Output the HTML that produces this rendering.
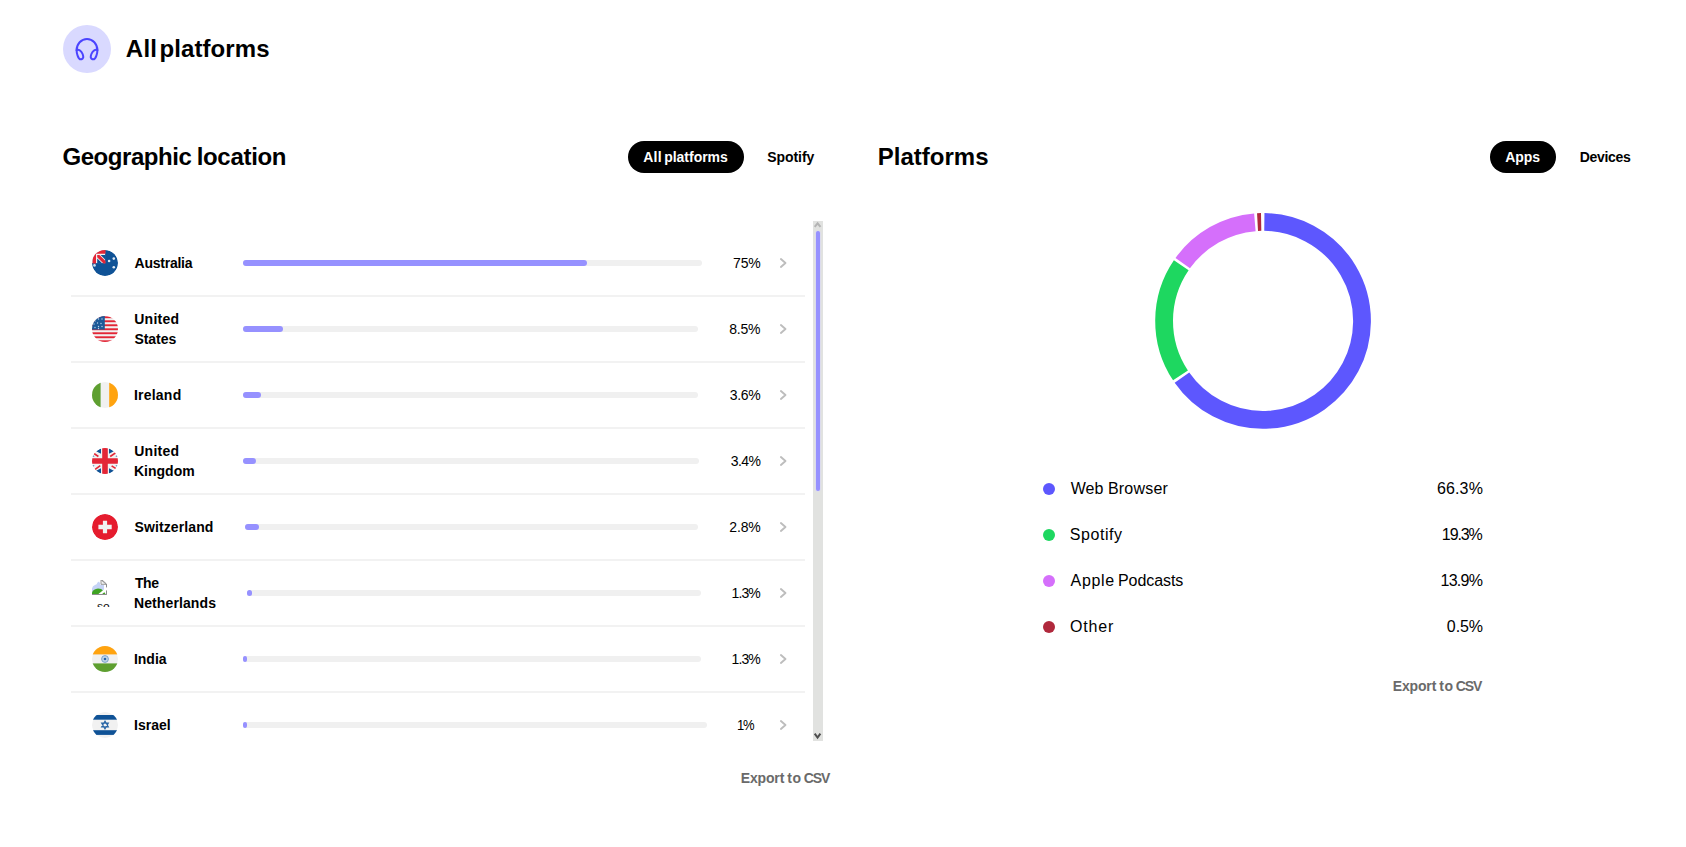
<!DOCTYPE html>
<html lang="en">
<head>
<meta charset="utf-8">
<title>All platforms</title>
<style>
*{box-sizing:border-box;margin:0;padding:0}
html,body{width:1686px;height:847px;background:#fff;overflow:hidden}
body{position:relative;font-family:"Liberation Sans",sans-serif;color:#000}
.abs{position:absolute;white-space:nowrap}
.t{position:absolute;white-space:nowrap;line-height:1;transform-origin:0 0}
.b{font-weight:700}
#hicon{left:63px;top:25px;width:48px;height:48px;border-radius:50%;background:#d9d9ff}
.pill{position:absolute;height:32px;border-radius:16px;background:#000}
.sep{position:absolute;left:71px;width:734px;height:2px;background:#f2f2f2}
.track{position:absolute;left:243px;height:6px;border-radius:3px;background:#f0f0f0}
.fill{position:absolute;left:243px;height:6px;border-radius:3px;background:#9691ff}
.flag{position:absolute;left:92px;width:26px;height:26px}
.chev{position:absolute;left:779px;width:9px;height:12px}
.dot{position:absolute;left:1043px;width:12px;height:12px;border-radius:50%}
.nm{font-size:14px}
.pc{font-size:14px}
.lg{font-size:16px}
/*FIT*/
#p2{letter-spacing:-0.082px;margin-left:-0.70px}
#plat{letter-spacing:-0.006px;margin-left:-1.15px}
#p3{letter-spacing:-0.063px;margin-left:-0.79px}
#p4{letter-spacing:-0.325px;margin-left:-0.25px}
#n0a{letter-spacing:-0.248px;margin-left:-0.44px}
#n1a{letter-spacing:0.270px;margin-left:-0.80px}
#n1b{letter-spacing:-0.049px;margin-left:-0.57px}
#n2a{letter-spacing:0.215px;margin-left:-1.00px}
#n3a{letter-spacing:0.270px;margin-left:-0.80px}
#n3b{letter-spacing:0.001px;margin-left:-1.00px}
#n4a{letter-spacing:0.119px;margin-left:-0.57px}
#n5a{letter-spacing:-0.394px;margin-left:-0.12px}
#n5b{letter-spacing:0.105px;margin-left:-1.00px}
#n6a{letter-spacing:-0.036px;margin-left:-1.00px}
#n7a{letter-spacing:0.009px;margin-left:-1.00px}
#pc0{letter-spacing:-0.228px;margin-left:-0.92px}
#pc1{letter-spacing:-0.179px;margin-left:-0.84px}
#pc2{letter-spacing:-0.295px;margin-left:-0.54px}
#pc3{letter-spacing:-0.623px;margin-left:-0.56px}
#pc4{letter-spacing:-0.111px;margin-left:-0.79px}
#pc5{letter-spacing:-0.890px;margin-left:-1.14px}
#pc6{letter-spacing:-0.890px;margin-left:-1.14px}
#pc7{letter-spacing:-1.300px;margin-left:-1.30px;transform:scaleX(0.9299)}
#l1{letter-spacing:0.540px;margin-left:-0.96px}
#l3{letter-spacing:0.816px;margin-left:-0.74px}
#v0{letter-spacing:0.144px;margin-left:-0.89px}
#v1{letter-spacing:-1.097px;margin-left:-1.15px}
#v2{letter-spacing:-0.758px;margin-left:-1.31px}
#v3{letter-spacing:-0.084px;margin-left:-0.46px}
#titlea{letter-spacing:0.248px;margin-left:-0.77px}
#titleb{letter-spacing:0.093px;margin-left:-1.55px}
#geoa{letter-spacing:-0.440px;margin-left:-1.05px}
#geob{letter-spacing:-0.309px;margin-left:-1.44px}
#p1a{letter-spacing:0.160px;margin-left:-0.59px}
#p1b{letter-spacing:-0.028px;margin-left:-0.88px}
#l0a{letter-spacing:0.036px;margin-left:-0.14px}
#l0b{letter-spacing:0.212px;margin-left:-1.16px}
#l2a{letter-spacing:0.682px;margin-left:-0.19px}
#l2b{letter-spacing:-0.063px;margin-left:-1.26px}
#ex1a{letter-spacing:-0.139px;margin-left:-0.90px}
#ex1b{letter-spacing:0.612px;margin-left:-0.20px}
#ex1c{letter-spacing:-1.071px;margin-left:-0.43px}
#ex2a{letter-spacing:-0.139px;margin-left:-0.90px}
#ex2b{letter-spacing:0.612px;margin-left:-0.20px}
#ex2c{letter-spacing:-1.016px;margin-left:-0.43px}
/*/FIT*/
</style>
</head>
<body>
<div id="hicon" class="abs"></div>
<svg class="abs" style="left:75px;top:37px" width="24" height="24" viewBox="0 0 24 24" fill="none" stroke="#4b44ff" stroke-width="2" stroke-linecap="round" stroke-linejoin="round">
<path d="M1.6 13.2 A10.4 11.2 0 0 1 22.4 13.2"/>
<path d="M1.6 13.2 C3.5 12.2 6.2 13.2 7.6 17 C8.8 20.2 8.3 21.6 6.6 22.2 C5 22.7 3.6 21.6 2.6 18.6 C1.9 16.6 1.6 15 1.6 13.2 Z"/>
<path d="M22.4 13.2 C20.5 12.2 17.8 13.2 16.4 17 C15.2 20.2 15.7 21.6 17.4 22.2 C19 22.7 20.4 21.6 21.4 18.6 C22.1 16.6 22.4 15 22.4 13.2 Z"/>
</svg>
<div class="t b" id="titlea" style="left:126.6px;top:37px;font-size:24px">All</div>
<div class="t b" id="titleb" style="left:161.0px;top:37px;font-size:24px">platforms</div>

<div class="t b" id="geoa" style="left:63.5px;top:145px;font-size:24px">Geographic</div>
<div class="t b" id="geob" style="left:198.1px;top:145px;font-size:24px">location</div>
<div class="pill" style="left:628px;top:141px;width:116px"></div>
<div class="t b" id="p1a" style="left:643.9px;top:150px;font-size:14px;color:#fff">All</div>
<div class="t b" id="p1b" style="left:665.1px;top:150px;font-size:14px;color:#fff">platforms</div>
<div class="t b" id="p2" style="left:768px;top:150px;font-size:14px">Spotify</div>

<div class="t b" id="plat" style="left:879px;top:145px;font-size:24px">Platforms</div>
<div class="pill" style="left:1490px;top:141px;width:66px"></div>
<div class="t b" id="p3" style="left:1506px;top:150px;font-size:14px;color:#fff">Apps</div>
<div class="t b" id="p4" style="left:1580px;top:150px;font-size:14px">Devices</div>

<!--ROWS-->
<svg class="flag" style="top:250px" viewBox="0 0 26 26"><defs><clipPath id="c0"><circle cx="13" cy="13" r="13"/></clipPath></defs><g clip-path="url(#c0)"><circle cx="13" cy="13" r="13" fill="#0f5296"/>
<rect x="0" y="0" width="13.1" height="13.1" fill="#f1f1f1"/>
<path d="M5.2 8.4 V13.6 H10.4 Z M8.6 5 H13.6 V10 Z" fill="#0f5296"/>
<path d="M0.5 13.5 V0 H13.5 V3.8 H4 V13.5 Z" fill="#e32636"/>
<path d="M5.2 5 H7.4 L13.5 11.1 V13.5 H11.5 L5.2 7.2 Z" fill="#e32636"/>
<circle cx="21.8" cy="8.6" r="1.3" fill="#dfe9f3"/><circle cx="17.1" cy="11" r="1.3" fill="#dfe9f3"/><circle cx="21.8" cy="17.3" r="1.3" fill="#dfe9f3"/><circle cx="2.5" cy="15.4" r="1.3" fill="#cfe0f0"/></g></svg>
<div class="t b nm" id="n0a" style="left:135px;top:256px">Australia</div>
<div class="track" style="top:260px;left:243px;width:459px"></div>
<div class="fill" style="top:260px;left:243px;width:344px"></div>
<div class="t pc" id="pc0" style="left:734px;top:256px">75%</div>
<svg class="chev" style="top:257px" viewBox="0 0 9 12"><path d="M1.9 2 L6.5 6 L1.9 10" fill="none" stroke="#bdbdbd" stroke-width="1.9" stroke-linecap="round" stroke-linejoin="round"/></svg>
<div class="sep" style="top:295px"></div>
<svg class="flag" style="top:316px" viewBox="0 0 26 26"><defs><clipPath id="c1"><circle cx="13" cy="13" r="13"/></clipPath></defs><g clip-path="url(#c1)"><circle cx="13" cy="13" r="13" fill="#f1f1f1"/><rect x="0" y="0.3" width="26" height="1.9" fill="#e32636"/><rect x="0" y="4.3" width="26" height="1.9" fill="#e32636"/><rect x="0" y="8.3" width="26" height="1.9" fill="#e32636"/><rect x="0" y="12.3" width="26" height="1.9" fill="#e32636"/><rect x="0" y="16.3" width="26" height="1.9" fill="#e32636"/><rect x="0" y="20.3" width="26" height="1.9" fill="#e32636"/><rect x="0" y="24.3" width="26" height="1.9" fill="#e32636"/><rect x="0" y="0" width="12.8" height="13.6" fill="#1d5a98"/><circle cx="3" cy="5" r="0.7" fill="#bcd3ea"/><circle cx="6.5" cy="3" r="0.7" fill="#bcd3ea"/><circle cx="10" cy="3" r="0.7" fill="#bcd3ea"/><circle cx="2" cy="8" r="0.7" fill="#bcd3ea"/><circle cx="5.5" cy="7" r="0.7" fill="#bcd3ea"/><circle cx="9" cy="7.5" r="0.7" fill="#bcd3ea"/><circle cx="3" cy="11.5" r="0.7" fill="#bcd3ea"/><circle cx="6.5" cy="10.5" r="0.7" fill="#bcd3ea"/><circle cx="10" cy="10.5" r="0.7" fill="#bcd3ea"/><circle cx="6.5" cy="12.5" r="0.7" fill="#bcd3ea"/></g></svg>
<div class="t b nm" id="n1a" style="left:135px;top:312px">United</div>
<div class="t b nm" id="n1b" style="left:135px;top:332px">States</div>
<div class="track" style="top:326px;left:243px;width:454.6px"></div>
<div class="fill" style="top:326px;left:243px;width:40px"></div>
<div class="t pc" id="pc1" style="left:730px;top:322px">8.5%</div>
<svg class="chev" style="top:323px" viewBox="0 0 9 12"><path d="M1.9 2 L6.5 6 L1.9 10" fill="none" stroke="#bdbdbd" stroke-width="1.9" stroke-linecap="round" stroke-linejoin="round"/></svg>
<div class="sep" style="top:361px"></div>
<svg class="flag" style="top:382px" viewBox="0 0 26 26"><defs><clipPath id="c2"><circle cx="13" cy="13" r="13"/></clipPath></defs><g clip-path="url(#c2)"><circle cx="13" cy="13" r="13" fill="#f1f1f1"/><rect x="0" y="0" width="8.6" height="26" fill="#5e9f30"/><rect x="17.2" y="0" width="9" height="26" fill="#ffa30f"/></g></svg>
<div class="t b nm" id="n2a" style="left:135px;top:388px">Ireland</div>
<div class="track" style="top:392px;left:243px;width:454.6px"></div>
<div class="fill" style="top:392px;left:243px;width:18px"></div>
<div class="t pc" id="pc2" style="left:730.3px;top:388px">3.6%</div>
<svg class="chev" style="top:389px" viewBox="0 0 9 12"><path d="M1.9 2 L6.5 6 L1.9 10" fill="none" stroke="#bdbdbd" stroke-width="1.9" stroke-linecap="round" stroke-linejoin="round"/></svg>
<div class="sep" style="top:427px"></div>
<svg class="flag" style="top:448px" viewBox="0 0 26 26"><defs><clipPath id="c3"><circle cx="13" cy="13" r="13"/></clipPath></defs><g clip-path="url(#c3)"><circle cx="13" cy="13" r="13" fill="#f1f1f1"/>
<path d="M4.2 3.2 L9 0 V5.8 Z M21.8 3.2 L17 0 V5.8 Z M4.2 22.8 L9 26 V20.2 Z M21.8 22.8 L17 26 V20.2 Z M0 6.6 V8.6 H2.6 Z M26 6.6 V8.6 H23.4 Z M0 19.4 V17.4 H2.6 Z M26 19.4 V17.4 H23.4 Z" fill="#0f5296"/>
<path d="M1.2 5 L6.4 8.5 M24.3 4.3 L18.2 8.5 M2.8 21.6 L8.3 17.6 M24 20.6 L19.6 17.8" stroke="#e32636" stroke-width="1.6"/>
<path d="M10.2 0 H15.8 V10.2 H26 V15.8 H15.8 V26 H10.2 V15.8 H0 V10.2 H10.2 Z" fill="#e32636"/></g></svg>
<div class="t b nm" id="n3a" style="left:135px;top:444px">United</div>
<div class="t b nm" id="n3b" style="left:135px;top:464px">Kingdom</div>
<div class="track" style="top:458px;left:243px;width:455.70000000000005px"></div>
<div class="fill" style="top:458px;left:243px;width:13px"></div>
<div class="t pc" id="pc3" style="left:731.4px;top:454px">3.4%</div>
<svg class="chev" style="top:455px" viewBox="0 0 9 12"><path d="M1.9 2 L6.5 6 L1.9 10" fill="none" stroke="#bdbdbd" stroke-width="1.9" stroke-linecap="round" stroke-linejoin="round"/></svg>
<div class="sep" style="top:493px"></div>
<svg class="flag" style="top:514px" viewBox="0 0 26 26"><defs><clipPath id="c4"><circle cx="13" cy="13" r="13"/></clipPath></defs><g clip-path="url(#c4)"><circle cx="13" cy="13" r="13" fill="#e51c2e"/><path d="M10.9 6.8 H15.1 V10.8 H19.7 V15.2 H15.1 V19.2 H10.9 V15.2 H6.4 V10.8 H10.9 Z" fill="#f1f1f1"/></g></svg>
<div class="t b nm" id="n4a" style="left:135px;top:520px">Switzerland</div>
<div class="track" style="top:524px;left:245px;width:452.6px"></div>
<div class="fill" style="top:524px;left:245px;width:14px"></div>
<div class="t pc" id="pc4" style="left:730px;top:520px">2.8%</div>
<svg class="chev" style="top:521px" viewBox="0 0 9 12"><path d="M1.9 2 L6.5 6 L1.9 10" fill="none" stroke="#bdbdbd" stroke-width="1.9" stroke-linecap="round" stroke-linejoin="round"/></svg>
<div class="sep" style="top:559px"></div>
<div class="flag" style="top:580px;height:27px;overflow:hidden">
<svg style="position:absolute;left:-1px;top:-1px" width="16" height="16" viewBox="0 0 16 16"><path d="M9.5 0.5 H10.5 L15.5 5 V15.5 H0.5 V11.5" fill="none" stroke="#8c8c8c" stroke-width="1"/><path d="M10 0.8 V5.3 H15.2 Z" fill="#f4f4f4" stroke="#8c8c8c" stroke-width="0.9"/><path d="M1 15 V9.5 Q1.5 6.5 4 6 Q6 5.5 6.5 3.5 L8 2.5 L9.2 4.5 L9.5 6 H13 V15 Z" fill="#c5d3f6"/><path d="M1 15 V13.5 Q2.5 10 7 9.6 Q10.5 9.6 12.5 12 L14.5 15 Z" fill="#3fa322"/><path d="M6.2 16 L16 8 L16 11 L10 16 Z" fill="#fff"/><path d="M0.5 15.5 H15.5" stroke="#8c8c8c" stroke-width="1"/></svg>
<span class="t" style="left:5px;top:20.6px;font-size:12px;color:#111">so.</span></div>
<div class="t b nm" id="n5a" style="left:135px;top:576px">The</div>
<div class="t b nm" id="n5b" style="left:135px;top:596px">Netherlands</div>
<div class="track" style="top:590px;left:247px;width:453.6px"></div>
<div class="fill" style="top:590px;left:247px;width:5px"></div>
<div class="t pc" id="pc5" style="left:732.7px;top:586px">1.3%</div>
<svg class="chev" style="top:587px" viewBox="0 0 9 12"><path d="M1.9 2 L6.5 6 L1.9 10" fill="none" stroke="#bdbdbd" stroke-width="1.9" stroke-linecap="round" stroke-linejoin="round"/></svg>
<div class="sep" style="top:625px"></div>
<svg class="flag" style="top:646px" viewBox="0 0 26 26"><defs><clipPath id="c6"><circle cx="13" cy="13" r="13"/></clipPath></defs><g clip-path="url(#c6)"><circle cx="13" cy="13" r="13" fill="#f1f1f1"/><rect x="0" y="0" width="26" height="8.4" fill="#ffa30f"/><rect x="0" y="17.4" width="26" height="9" fill="#5e9f30"/><circle cx="13" cy="13" r="3.4" fill="#c4d6e8" stroke="#6f9ccb" stroke-width="0.9"/><circle cx="13" cy="13" r="1.3" fill="#2a66a6"/></g></svg>
<div class="t b nm" id="n6a" style="left:135px;top:652px">India</div>
<div class="track" style="top:656px;left:243px;width:457.6px"></div>
<div class="fill" style="top:656px;left:243px;width:4.300000000000011px"></div>
<div class="t pc" id="pc6" style="left:732.7px;top:652px">1.3%</div>
<svg class="chev" style="top:653px" viewBox="0 0 9 12"><path d="M1.9 2 L6.5 6 L1.9 10" fill="none" stroke="#bdbdbd" stroke-width="1.9" stroke-linecap="round" stroke-linejoin="round"/></svg>
<div class="sep" style="top:691px"></div>
<svg class="flag" style="top:712px" viewBox="0 0 26 26"><defs><clipPath id="c7"><circle cx="13" cy="13" r="13"/></clipPath></defs><g clip-path="url(#c7)"><circle cx="13" cy="13" r="13" fill="#f1f1f1"/><rect x="0" y="3" width="26" height="4.7" fill="#0f5296"/><rect x="0" y="18.2" width="26" height="4.7" fill="#0f5296"/>
<path d="M13 9 L16.4 14.9 H9.6 Z M13 17 L9.6 11.1 H16.4 Z" fill="none" stroke="#2a66a6" stroke-width="1.1"/></g></svg>
<div class="t b nm" id="n7a" style="left:135px;top:718px">Israel</div>
<div class="track" style="top:722px;left:243px;width:463.5px"></div>
<div class="fill" style="top:722px;left:243px;width:4px"></div>
<div class="t pc" id="pc7" style="left:738.4px;top:718px">1%</div>
<svg class="chev" style="top:719px" viewBox="0 0 9 12"><path d="M1.9 2 L6.5 6 L1.9 10" fill="none" stroke="#bdbdbd" stroke-width="1.9" stroke-linecap="round" stroke-linejoin="round"/></svg>
<!--/ROWS-->

<!--SCROLL-->
<div class="abs" style="left:813px;top:221px;width:10px;height:519.5px;background:#e1e2e0"></div>
<div class="abs" style="left:816px;top:231px;width:4.2px;height:260px;border-radius:2.1px;background:#9691ff;box-shadow:0 0 0 0.6px #d9d8f3"></div>
<svg class="abs" style="left:813px;top:221px" width="10" height="10" viewBox="0 0 10 10"><path d="M1.7 5.9 L4.6 2.4 L7.5 5.9" fill="none" stroke="#b4b4b4" stroke-width="2"/></svg>
<svg class="abs" style="left:813px;top:731px" width="10" height="10" viewBox="0 0 10 10"><path d="M1.7 2.7 L4.55 6.6 L7.4 2.7" fill="none" stroke="#4f4f4f" stroke-width="2"/></svg>
<!--/SCROLL-->

<div class="t b" id="ex1a" style="left:741.6px;top:771px;font-size:14px;color:#6a6a6a">Export</div>
<div class="t b" id="ex1b" style="left:787.5px;top:771px;font-size:14px;color:#6a6a6a">to</div>
<div class="t b" id="ex1c" style="left:804.1px;top:771px;font-size:14px;color:#6a6a6a">CSV</div>

<!--DONUT-->
<svg class="abs" style="left:0;top:0" width="1686" height="847" viewBox="0 0 1686 847"><path d="M1264.35 221.96 A98.95 98.95 0 1 1 1181.95 377.58" fill="none" stroke="#5d57fe" stroke-width="17.8"/><path d="M1180.49 375.44 A98.95 98.95 0 0 1 1181.26 265.21" fill="none" stroke="#1ed760" stroke-width="17.8"/><path d="M1182.74 263.09 A98.95 98.95 0 0 1 1254.86 222.29" fill="none" stroke="#d56ffb" stroke-width="17.8"/><path d="M1257.53 222.10 A98.95 98.95 0 0 1 1261.15 221.97" fill="none" stroke="#b0283c" stroke-width="17.8"/></svg>
<!--/DONUT-->

<!--LEGEND-->
<div class="dot" style="top:483px;background:#5d57fe"></div>
<div class="t lg" id="l0a" style="left:1070.8px;top:481px">Web</div>
<div class="t lg" id="l0b" style="left:1109.1px;top:481px">Browser</div>
<div class="t lg" id="v0" style="left:1437.8px;top:481px">66.3%</div>
<div class="dot" style="top:529px;background:#1ed760"></div>
<div class="t lg" id="l1" style="left:1070.8px;top:527px">Spotify</div>
<div class="t lg" id="v1" style="left:1443px;top:527px">19.3%</div>
<div class="dot" style="top:575px;background:#d56ffb"></div>
<div class="t lg" id="l2a" style="left:1070.8px;top:573px">Apple</div>
<div class="t lg" id="l2b" style="left:1119.2px;top:573px">Podcasts</div>
<div class="t lg" id="v2" style="left:1441.9px;top:573px">13.9%</div>
<div class="dot" style="top:621px;background:#b0283c"></div>
<div class="t lg" id="l3" style="left:1070.8px;top:619px">Other</div>
<div class="t lg" id="v3" style="left:1447.3px;top:619px">0.5%</div>
<!--/LEGEND-->

<div class="t b" id="ex2a" style="left:1393.6px;top:679px;font-size:14px;color:#6a6a6a">Export</div>
<div class="t b" id="ex2b" style="left:1439.5px;top:679px;font-size:14px;color:#6a6a6a">to</div>
<div class="t b" id="ex2c" style="left:1456.1px;top:679px;font-size:14px;color:#6a6a6a">CSV</div>
</body>
</html>
